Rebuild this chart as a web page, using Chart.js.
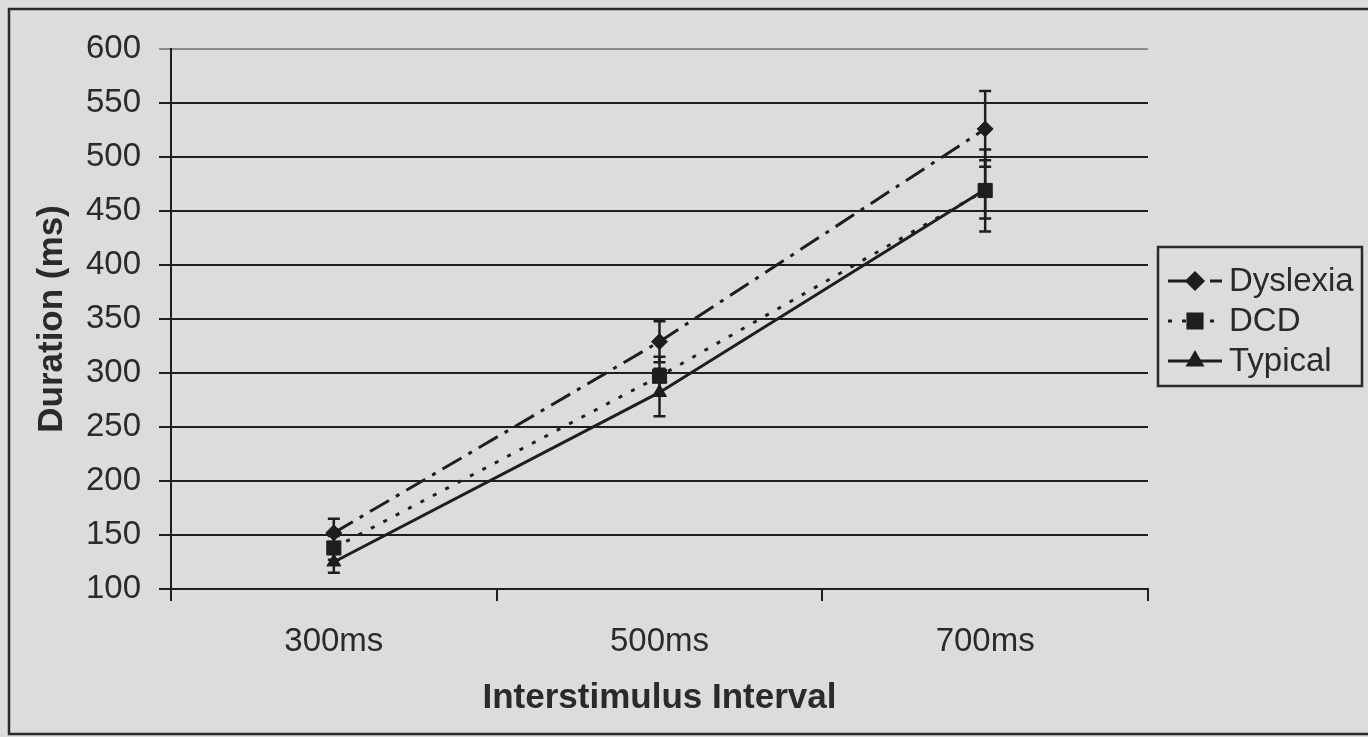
<!DOCTYPE html>
<html>
<head>
<meta charset="utf-8">
<script src="https://cdn.jsdelivr.net/npm/chart.js@4.4.1/dist/chart.umd.min.js"></script>
<style>
  html, body { margin: 0; padding: 0; background: #dcdcdc; }
  #wrap { width: 1368px; height: 737px; position: relative; }
</style>
</head>
<body>
<div id="wrap"><canvas id="chart" width="1368" height="737"></canvas></div>
<script>
// data
const intervals = ['300ms', '500ms', '700ms'];
const dyslexia = [152, 329, 526];
const dyslexiaErr = [13, 19, 35];
const dcd = [138, 297, 469];
const dcdErr = [11, 18, 38];
const typical = [125, 282, 470];
const typicalErr = [10, 22, 27];

const INK = '#1e1e1e';
const FONT = '"Liberation Sans", Arial, sans-serif';

// background + outer frame
const framePlugin = {
  id: 'frame',
  beforeDraw(chart) {
    const ctx = chart.ctx;
    ctx.save();
    ctx.fillStyle = '#dcdcdc';
    ctx.fillRect(0, 0, chart.width, chart.height);
    ctx.strokeStyle = '#2a2a2a';
    ctx.lineWidth = 2.5;
    ctx.strokeRect(9, 9, chart.width + 20, chart.height - 12);
    ctx.restore();
  }
};

// error bars drawn through the y scale
const errorBars = {
  id: 'errorBars',
  beforeDatasetsDraw(chart) {
    const ctx = chart.ctx;
    const y = chart.scales.y;
    ctx.save();
    ctx.strokeStyle = INK;
    ctx.lineWidth = 2.5;
    ctx.setLineDash([]);
    chart.data.datasets.forEach((ds, di) => {
      const meta = chart.getDatasetMeta(di);
      meta.data.forEach((pt, i) => {
        const top = y.getPixelForValue(ds.data[i] + ds.err[i]);
        const bot = y.getPixelForValue(ds.data[i] - ds.err[i]);
        ctx.beginPath();
        ctx.moveTo(pt.x, top); ctx.lineTo(pt.x, bot);
        ctx.moveTo(pt.x - 6, top); ctx.lineTo(pt.x + 6, top);
        ctx.moveTo(pt.x - 6, bot); ctx.lineTo(pt.x + 6, bot);
        ctx.stroke();
      });
    });
    ctx.restore();
  }
};

// boxed legend on the right, Excel style
const boxLegend = {
  id: 'boxLegend',
  afterDraw(chart) {
    const ctx = chart.ctx;
    const x0 = 1158, y0 = 247, w = 204, h = 139;
    ctx.save();
    ctx.strokeStyle = '#2a2a2a';
    ctx.lineWidth = 2.5;
    ctx.strokeRect(x0, y0, w, h);
    chart.data.datasets.forEach((ds, i) => {
      const cy = y0 + 34 + i * 40;
      ctx.strokeStyle = INK;
      ctx.fillStyle = INK;
      ctx.lineWidth = 3;
      ctx.setLineDash(ds.borderDash || []);
      ctx.beginPath();
      ctx.moveTo(x0 + 10, cy); ctx.lineTo(x0 + 64, cy);
      ctx.stroke();
      ctx.setLineDash([]);
      Chart.helpers.drawPoint(ctx, { pointStyle: ds.pointStyle, radius: ds.pointRadius, rotation: 0, borderWidth: 1 }, x0 + 37, cy);
      ctx.fillStyle = '#2a2a2a';
      ctx.font = '33px ' + FONT;
      ctx.textBaseline = 'middle';
      ctx.fillText(ds.label, x0 + 71, cy + 1);
    });
    ctx.restore();
  }
};

const series = (label, data, err, style, radius, dash) => ({
  label, data, err,
  borderColor: INK, backgroundColor: INK,
  borderWidth: 3, borderDash: dash,
  pointStyle: style, pointRadius: radius, pointHoverRadius: radius,
  pointBackgroundColor: INK, pointBorderColor: INK, pointBorderWidth: 1,
  tension: 0
});

new Chart(document.getElementById('chart'), {
  type: 'line',
  data: {
    labels: intervals,
    datasets: [
      series('Dyslexia', dyslexia, dyslexiaErr, 'rectRot', 8, [22, 8, 4, 8]),
      series('DCD', dcd, dcdErr, 'rect', 10, [4, 10]),
      series('Typical', typical, typicalErr, 'triangle', 8, [])
    ]
  },
  options: {
    responsive: false,
    animation: false,
    devicePixelRatio: 1,
    layout: { padding: { left: 0, top: 49, right: 220, bottom: 0 } },
    plugins: { legend: { display: false }, tooltip: { enabled: false } },
    scales: {
      x: {
        offset: true,
        grid: { offset: true, drawOnChartArea: false, tickLength: 12, color: INK, lineWidth: 2 },
        border: { color: INK, width: 2 },
        ticks: { color: '#2a2a2a', font: { family: FONT, size: 33 }, padding: 21 },
        title: { display: true, text: 'Interstimulus Interval', color: '#2a2a2a',
                 font: { family: FONT, size: 35, weight: 'bold' }, padding: { top: 0, bottom: 18 } },
        afterFit(s) { s.height = 737 - 589; }
      },
      y: {
        min: 100, max: 600,
        ticks: { stepSize: 50, color: '#2a2a2a', font: { family: FONT, size: 33 }, padding: 18 },
        grid: { tickLength: 12, lineWidth: 2,
                color: c => c.tick && c.tick.value === 600 ? '#8a8a8a' : INK },
        border: { color: INK, width: 2 },
        title: { display: true, text: 'Duration (ms)', color: '#2a2a2a',
                 font: { family: FONT, size: 35, weight: 'bold' }, padding: { top: 31, bottom: 0 } },
        afterFit(s) { s.width = 171; }
      }
    }
  },
  plugins: [framePlugin, errorBars, boxLegend]
});
</script>
</body>
</html>
